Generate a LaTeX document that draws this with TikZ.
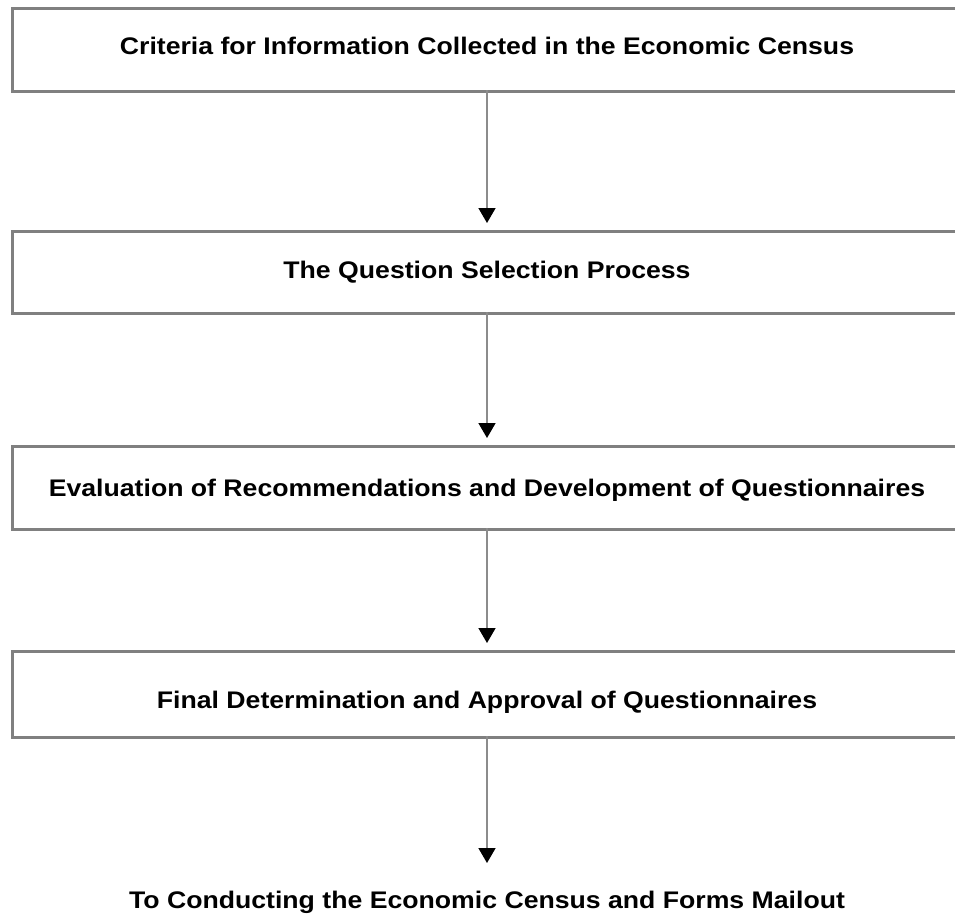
\documentclass[tikz,border=0pt]{standalone}
\usepackage{fontspec}
\usepackage{graphicx}
\setmainfont{Liberation Sans}
\usetikzlibrary{arrows.meta}
\newcommand{\widetxt}[1]{\scalebox{1.11}[1]{#1}}
\begin{document}
\begin{tikzpicture}[x=1pt,y=-1pt,
  stepbox/.style={draw=black!50, line width=3pt, fill=white, minimum height=83pt, minimum width=955pt, inner sep=0pt},
  flow/.style={draw=black!45, line width=1.6pt, -{Triangle[length=15pt,width=17pt,fill=black,color=black]}, shorten >=7pt},
  lbl/.style={font=\fontsize{24}{28}\selectfont\bfseries, inner sep=0pt, anchor=base}]
\useasboundingbox (0,0) rectangle (955,913);
\clip (0,0) rectangle (955,913);
\node[stepbox, anchor=north west] (b1) at (11,7) {};
\node[lbl] (t1) at (487,54) {\widetxt{Criteria for Information Collected in the Economic Census}};
\node[stepbox, anchor=north west, minimum height=82pt] (b2) at (11,230) {};
\node[lbl] (t2) at (487,278) {\widetxt{The Question Selection Process}};
\node[stepbox, anchor=north west] (b3) at (11,445) {};
\node[lbl] (t3) at (487,496) {\widetxt{Evaluation of Recommendations and Development of Questionnaires}};
\node[stepbox, anchor=north west, minimum height=86pt] (b4) at (11,650) {};
\node[lbl] (t4) at (487,708) {\widetxt{Final Determination and Approval of Questionnaires}};
\node[lbl] (t5) at (487,908) {\widetxt{To Conducting the Economic Census and Forms Mailout}};
\coordinate (a1s) at (487,90);
\coordinate (a1e) at (487,230);
\coordinate (a2s) at (487,312);
\coordinate (a2e) at (487,445);
\coordinate (a3s) at (487,528);
\coordinate (a3e) at (487,650);
\coordinate (a4s) at (487,736);
\coordinate (a4e) at (487,870);
\draw[flow] (a1s) -- (a1e);
\draw[flow] (a2s) -- (a2e);
\draw[flow] (a3s) -- (a3e);
\draw[flow] (a4s) -- (a4e);
\end{tikzpicture}
\end{document}
